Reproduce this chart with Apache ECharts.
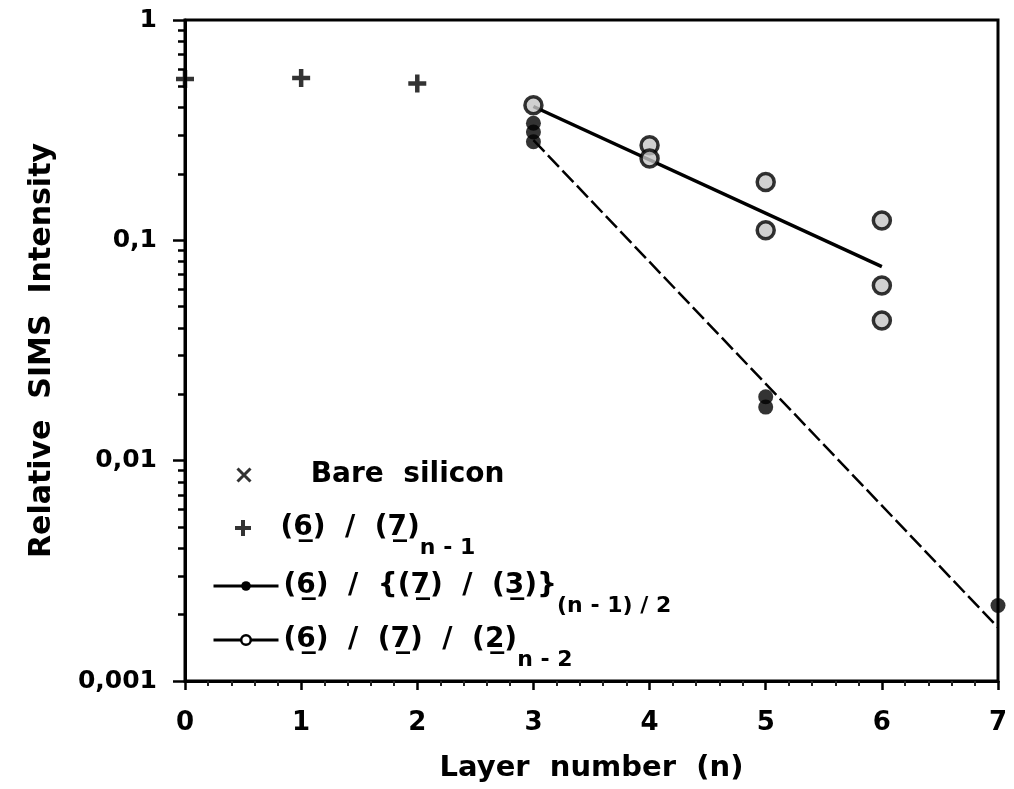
<!DOCTYPE html>
<html><head><meta charset="utf-8">
<script src="https://cdn.jsdelivr.net/npm/echarts@6.0.0/dist/echarts.min.js"></script>
<style>html,body{margin:0;padding:0;background:#fff}#c{width:1014px;height:789px}</style>
</head><body><div id="c"></div>
<script>
// ---- data ----
const xTickValues = [0, 1, 2, 3, 4, 5, 6, 7];
const yTickValues = [0.001, 0.01, 0.1, 1];
const yTickLabels = ['0,001', '0,01', '0,1', '1'];
const bareX = [];
const bareY = [];
const plusX = [0, 1, 2];
const plusY = [0.54, 0.545, 0.515];
const filledX = [3, 3, 3, 5, 5, 7];
const filledY = [0.34, 0.31, 0.28, 0.0195, 0.0175, 0.0022];
const openX = [3, 4, 4, 5, 5, 6, 6, 6];
const openY = [0.41, 0.27, 0.235, 0.184, 0.111, 0.123, 0.0624, 0.0433];
const fitFilledX = [3, 7];
const fitFilledY = [0.285, 0.00175];
const fitOpenX = [3, 6];
const fitOpenY = [0.405, 0.076];
const legendNames = ['bare', 'n1', 'n12', 'n2'];
const legendTexts = [
  '   Bare  silicon',
  '(6\u0332)  /  (7\u0332){s|n - 1}',
  '(6\u0332)  /  {(7\u0332)  /  (3\u0332)}{s|(n - 1) / 2}',
  '(6\u0332)  /  (7\u0332)  /  (2\u0332){s|n - 2}'
];

const pairs = (xs, ys) => xs.map((x, i) => [x, ys[i]]);
const FONT = 'DejaVu Sans';
const minorVals = [];
for (let d = -3; d < 0; d++) for (let k = 2; k <= 9; k++) minorVals.push(+(k * Math.pow(10, d)).toPrecision(3));

const chart = echarts.init(document.getElementById('c'), null, {renderer: 'canvas'});
const legendBase = {
  orient: 'vertical', left: 212, padding: 0, itemWidth: 65, itemGap: 0,
  selectedMode: false,
  textStyle: {
    fontFamily: FONT, fontWeight: 'bold', fontSize: 28, color: '#000',
    rich: { s: { fontFamily: FONT, fontWeight: 'bold', fontSize: 22, color: '#000', verticalAlign: 'bottom', padding: [40, 0, 0, 0] } }
  },
  formatter: name => legendTexts[legendNames.indexOf(name)]
};
const option = {
  animation: false,
  backgroundColor: '#fff',
  grid: { left: 185, right: 16, top: 20, bottom: 108, show: true, borderColor: '#000', borderWidth: 3, backgroundColor: 'transparent' },
  xAxis: {
    type: 'value', min: 0, max: 7, interval: 1,
    name: 'Layer  number  (n)', nameLocation: 'middle', nameGap: 73,
    nameTextStyle: { fontFamily: FONT, fontWeight: 'bold', fontSize: 29, color: '#000' },
    axisLine: { lineStyle: { color: '#000', width: 3 } },
    axisTick: { length: 9, lineStyle: { color: '#000', width: 2.5 } },
    minorTick: { show: true, splitNumber: 5, length: 5, lineStyle: { color: '#222', width: 2 } },
    splitLine: { show: false },
    axisLabel: { margin: 29, fontFamily: FONT, fontWeight: 'bold', fontSize: 26, color: '#000',
      formatter: v => xTickValues.includes(v) ? String(v) : '' }
  },
  yAxis: [{
    type: 'log', logBase: 10, min: 0.001, max: 1,
    name: 'Relative  SIMS  Intensity', nameLocation: 'middle', nameGap: 128,
    nameTextStyle: { fontFamily: FONT, fontWeight: 'bold', fontSize: 30, color: '#000' },
    axisLine: { lineStyle: { color: '#000', width: 3 } },
    axisTick: { length: 12, lineStyle: { color: '#000', width: 2.5 } },
    splitLine: { show: false },
    axisLabel: { margin: 28, fontFamily: FONT, fontWeight: 'bold', fontSize: 25, color: '#000',
      formatter: v => { const i = yTickValues.findIndex(t => Math.abs(Math.log10(t) - Math.log10(v)) < 1e-6); return i >= 0 ? yTickLabels[i] : ''; } }
  }, {
    type: 'log', logBase: 10, min: 0.001, max: 1, position: 'left',
    axisLine: { show: false },
    axisTick: { show: true, customValues: minorVals, length: 7, lineStyle: { color: '#000', width: 2.5 } },
    axisLabel: { show: false },
    splitLine: { show: false }
  }],
  legend: [
    Object.assign({}, legendBase, { left: 236, top: 461, itemHeight: 13, data: [{ name: 'bare', itemStyle: { color: 'transparent', borderColor: '#000', borderWidth: 3 } }] }),
    Object.assign({}, legendBase, { left: 233, top: 514, itemHeight: 16, data: [{ name: 'n1', itemStyle: { color: 'transparent', borderColor: '#000', borderWidth: 4 } }] }),
    Object.assign({}, legendBase, { top: 572, itemHeight: 12, lineStyle: { type: 'solid', width: 3, color: '#000' }, data: [{ name: 'n12', itemStyle: { color: '#000' } }] }),
    Object.assign({}, legendBase, { top: 626, itemHeight: 12, lineStyle: { type: 'solid', width: 3, color: '#000' },
      itemStyle: { color: '#fff', borderColor: '#000', borderWidth: 2.5 }, data: [{ name: 'n2' }] })
  ],
  series: [
    { name: 'n12', type: 'line', data: pairs(fitFilledX, fitFilledY), showSymbol: false, symbol: 'circle',
      lineStyle: { color: '#000', width: 2.5, type: [16, 5] }, itemStyle: { color: '#000' }, z: 2 },
    { name: 'n2', type: 'line', data: pairs(fitOpenX, fitOpenY), showSymbol: false, symbol: 'circle',
      lineStyle: { color: '#000', width: 3.5 }, itemStyle: { color: '#fff', borderColor: '#000', borderWidth: 2.5 }, z: 2 },
    { name: 'bare', type: 'scatter', data: pairs(bareX, bareY), symbol: 'path://M0,0L10,10M10,0L0,10', symbolSize: 13,
      itemStyle: { color: 'transparent', borderColor: '#000', borderWidth: 3 } },
    { name: 'n1', type: 'scatter', data: pairs(plusX, plusY), symbol: 'path://M5,0L5,10M0,5L10,5', symbolSize: 18,
      itemStyle: { color: 'transparent', borderColor: '#000', borderWidth: 4.5 }, z: 3 },
    { name: 'n12', type: 'scatter', data: pairs(filledX, filledY), symbol: 'circle', symbolSize: 15,
      itemStyle: { color: '#000' }, z: 3 },
    { name: 'n2', type: 'scatter', data: pairs(openX, openY), symbol: 'circle', symbolSize: 17,
      itemStyle: { color: '#c4c4c4', borderColor: '#000', borderWidth: 3.5 }, z: 3 }
  ]
};
chart.setOption(option);
</script></body></html>
